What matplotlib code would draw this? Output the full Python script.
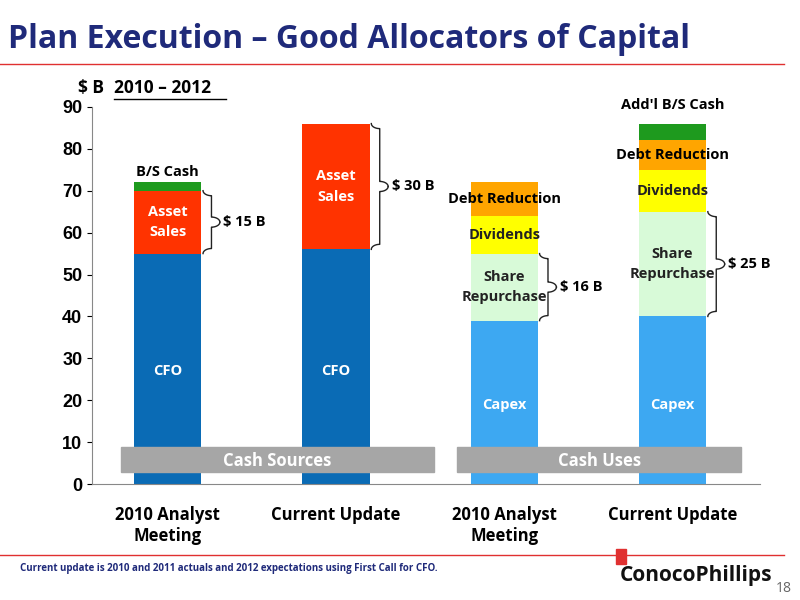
import matplotlib
matplotlib.use("Agg")
import matplotlib.pyplot as plt
from matplotlib.patches import Rectangle
import numpy as np

categories = ["2010 Analyst\nMeeting", "Current Update", "2010 Analyst\nMeeting", "Current Update"]
stacks = [
    [("CFO", 55, "#0A6BB5", "white"), ("Asset\nSales", 15, "#FF3300", "white"), ("B/S Cash", 2, "#1E9A1E", None)],
    [("CFO", 56, "#0A6BB5", "white"), ("Asset\nSales", 30, "#FF3300", "white")],
    [("Capex", 39, "#3DA8F2", "white"), ("Share\nRepurchase", 16, "#D8FAD8", "#222222"),
     ("Dividends", 9, "#FFFF00", "#222222"), ("Debt Reduction", 8, "#FFA500", None)],
    [("Capex", 40, "#3DA8F2", "white"), ("Share\nRepurchase", 25, "#D8FAD8", "#222222"),
     ("Dividends", 10, "#FFFF00", "#222222"), ("Debt Reduction", 7, "#FFA500", None),
     ("Add'l B/S Cash", 4, "#1E9A1E", None)],
]
brace_labels = ["$ 15 B", "$ 30 B", "$ 16 B", "$ 25 B"]
brace_idx = [1, 1, 1, 1]

plt.rcParams['font.family'] = ['Open Sans', 'DejaVu Sans']
fig = plt.figure(figsize=(8, 6), dpi=100)
ax = fig.add_axes([0.115, 0.193, 0.835, 0.629])
w = 0.4
for i, st in enumerate(stacks):
    b = 0
    for j, (lab, v, c, tc) in enumerate(st):
        ax.bar(i, v, w, bottom=b, color=c, zorder=2)
        if tc is not None:
            yy = b + v / 2 if lab not in ("CFO", "Capex") else (27 if lab == "CFO" else 19)
            ax.text(i, yy, lab, ha="center", va="center", color=tc, fontsize=10.5,
                    fontweight="bold", linespacing=1.6, zorder=3)
        b += v
ax.text(0, 74.5, "B/S Cash", ha="center", va="center", fontsize=10.5, fontweight="bold")
ax.text(2, 68, "Debt Reduction", ha="center", va="center", fontsize=10.5, fontweight="bold")
ax.text(3, 78.5, "Debt Reduction", ha="center", va="center", fontsize=10.5, fontweight="bold")
ax.text(3, 90.5, "Add'l B/S Cash", ha="center", va="center", fontsize=10.5, fontweight="bold")

def brace(x, y0, y1, label):
    d = 0.05
    ym = (y0 + y1) / 2
    h = 1.2
    t = np.linspace(0, np.pi / 2, 15)
    # bottom hook
    xs, ys = [], []
    xs += list(x + d * (1 - np.cos(t))); ys += list(y0 + h * np.sin(t))
    xs += [x + d, x + d]; ys += [y0 + h, ym - h]
    xs += list(x + d + d * np.sin(t)); ys += list(ym - h + h * (1 - np.cos(t)))
    ax.plot(xs, ys, color="#222222", lw=1, clip_on=False, zorder=4)
    xs, ys = [], []
    xs += list(x + d * (1 - np.cos(t))); ys += list(y1 - h * np.sin(t))
    xs += [x + d, x + d]; ys += [y1 - h, ym + h]
    xs += list(x + d + d * np.sin(t)); ys += list(ym + h - h * (1 - np.cos(t)))
    ax.plot(xs, ys, color="#222222", lw=1, clip_on=False, zorder=4)
    ax.text(x + 2 * d + 0.02, ym, label, ha="left", va="center", fontsize=10.5, fontweight="bold")

for i, st in enumerate(stacks):
    k = brace_idx[i]
    base = sum(v for _, v, _, _ in st[:k])
    brace(i + w / 2 + 0.01, base, base + st[k][1], brace_labels[i])

for x0, x1, lab in ((-0.28, 1.58, "Cash Sources"), (1.72, 3.41, "Cash Uses")):
    ax.add_patch(Rectangle((x0, 3.0), x1 - x0, 5.8, color="#A6A6A6", zorder=5, clip_on=False))
    ax.text((x0 + x1) / 2, 5.5, lab, ha="center", va="center", color="white",
            fontsize=12, fontweight="bold", zorder=6)

ax.set_xlim(-0.45, 3.52)
ax.set_ylim(0, 90)
ax.set_yticks(range(0, 91, 10))
ax.set_xticks(range(4))
ax.set_xticklabels(categories, fontsize=12, fontweight="bold")
ax.tick_params(axis="y", labelsize=13)
for t in ax.get_yticklabels():
    t.set_fontweight("bold"); t.set_family("Liberation Sans")
ax.tick_params(axis="x", length=0, pad=16)
ax.spines["top"].set_visible(False)
ax.spines["right"].set_visible(False)
ax.spines["left"].set_color("#888888")
ax.spines["bottom"].set_color("#888888")

fig.text(0.01, 0.935, "Plan Execution – Good Allocators of Capital", fontsize=23,
         fontweight="bold", color="#1F2A7A", va="center")
fig.add_artist(plt.Line2D([0.0, 0.98], [0.893, 0.893], color="#E03030", lw=1))
fig.text(0.098, 0.853, "$ B", fontsize=12.5, fontweight="bold", va="center")
fig.text(0.142, 0.853, "2010 – 2012", fontsize=12.5, fontweight="bold", va="center")
fig.add_artist(plt.Line2D([0.142, 0.283], [0.835, 0.835], color="black", lw=1))
fig.add_artist(plt.Line2D([0.0, 0.98], [0.075, 0.075], color="#E03030", lw=1))
fig.text(0.025, 0.053, "Current update is 2010 and 2011 actuals and 2012 expectations using First Call for CFO.",
         fontsize=7, fontweight="bold", color="#1F2A7A", va="center")
fig.text(0.775, 0.04, "ConocoPhillips", fontsize=15, fontweight="bold", color="#111111", va="center")
fig.add_artist(Rectangle((0.77, 0.06), 0.012, 0.025, color="#E03030", transform=fig.transFigure))
fig.text(0.99, 0.02, "18", fontsize=10, color="#666666", ha="right", va="center")
fig.savefig("out.png", dpi=100)
